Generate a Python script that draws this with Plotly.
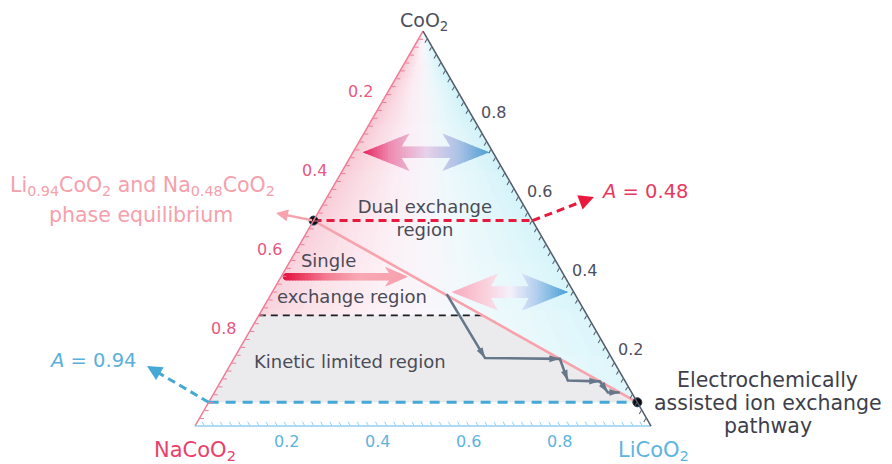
import math
import plotly.graph_objects as go

# ---------------- data ----------------
# ternary components: a = CoO2 (top), b = NaCoO2 (bottom left), c = LiCoO2 (bottom right)
tick_values = [0.2, 0.4, 0.6, 0.8]
tick_labels = ["0.2", "0.4", "0.6", "0.8"]

A_dual = 0.48        # A = 0.48 boundary (Na0.48CoO2)
A_kinetic = 0.72     # lower limit of the single exchange region
A_li = 0.94          # A = 0.94 (Li0.94CoO2)

# tie line Na0.48CoO2 -- Li0.94CoO2
tie_a = [0.52, 0.06]
tie_b = [0.48, 0.00]
tie_c = [0.00, 0.94]

# electrochemically assisted ion exchange pathway
path_a = [0.334, 0.172, 0.170, 0.115, 0.113, 0.085, 0.085]
path_b = [0.281, 0.278, 0.115, 0.125, 0.056, 0.052, 0.026]
path_c = [0.385, 0.550, 0.715, 0.760, 0.831, 0.863, 0.889]

# exchange arrows: (left tip, right tip) as (a, b, c)
dual_arrow = [(0.693, 0.286, 0.021), (0.693, 0.008, 0.299)]
tie_arrow = [(0.339, 0.268, 0.393), (0.339, 0.012, 0.649)]
single_arrow = [(0.378, 0.610, 0.012), (0.378, 0.344, 0.278)]

# ---------------- geometry helpers ----------------
FW, FH = 892, 464
OFF = 8                      # page margin of the html body
X0, YB, TH = 195.0, 426.0, 395.0
TW = TH * 2 / math.sqrt(3)
PW = 600.0
PH = TH
ML = (X0 - OFF) + TW / 2 - PW / 2
MT = YB - OFF - TH
MB = FH - (YB - OFF)
MR = FW - ML - PW

FONT = "DejaVu Sans, Verdana, sans-serif"


def to_px(a, b, c):
    s = a + b + c
    a, c = a / s, c / s
    return X0 + TW * (c + a / 2), YB - TH * a


def from_px(x, y):
    a = (YB - y) / TH
    c = (x - X0) / TW - a / 2
    return a, 1 - a - c, c


def paper(x, y):
    return ((x - OFF) - ML) / PW, ((FH - MB) - (y - OFF)) / PH


def hex2rgb(h):
    h = h.lstrip('#')
    return [int(h[i:i + 2], 16) for i in (0, 2, 4)]


def grad_rgb(stops, t):
    t = max(0.0, min(1.0, t))
    for (t0, c0), (t1, c1) in zip(stops[:-1], stops[1:]):
        if t <= t1:
            f = (t - t0) / (t1 - t0) if t1 > t0 else 0
            return [p + (q - p) * f for p, q in zip(hex2rgb(c0), hex2rgb(c1))]
    return hex2rgb(stops[-1][1])


def rgb_str(r):
    return 'rgb(%d,%d,%d)' % tuple(round(v) for v in r)


def grad_color(stops, t):
    return rgb_str(grad_rgb(stops, t))


def clip_strip(poly, x0, x1):
    def clip(pts, keep, inter):
        out = []
        n = len(pts)
        for i in range(n):
            P, Q = pts[i], pts[(i + 1) % n]
            pin, qin = keep(P), keep(Q)
            if pin:
                out.append(P)
            if pin != qin:
                out.append(inter(P, Q))
        return out

    def ix(P, Q, xv):
        t = (xv - P[0]) / (Q[0] - P[0])
        return (xv, P[1] + t * (Q[1] - P[1]))

    p = clip(poly, lambda P: P[0] >= x0, lambda P, Q: ix(P, Q, x0))
    if len(p) < 3:
        return []
    return clip(p, lambda P: P[0] <= x1, lambda P, Q: ix(P, Q, x1))


fig = go.Figure()


def add_poly(tern_pts, color):
    fig.add_trace(go.Scatterternary(
        a=[p[0] for p in tern_pts] + [tern_pts[0][0]],
        b=[p[1] for p in tern_pts] + [tern_pts[0][1]],
        c=[p[2] for p in tern_pts] + [tern_pts[0][2]],
        mode='lines', fill='toself', fillcolor=color, line=dict(width=0),
        hoverinfo='skip', showlegend=False))


def add_gradient_poly(poly_px, stops, n):
    xs = [p[0] for p in poly_px]
    xa, xb = min(xs), max(xs)
    for i in range(n):
        s0 = xa + (xb - xa) * i / n
        s1 = xa + (xb - xa) * (i + 1) / n + 0.8
        piece = clip_strip(poly_px, s0, s1)
        if len(piece) < 3:
            continue
        add_poly([from_px(x, y) for x, y in piece], grad_color(stops, (i + 0.5) / n))


def double_arrow_px(L, R, head, barb, shaft, setback):
    (xl, y), (xr, _) = to_px(*L), to_px(*R)
    return [(xl, y), (xl + head, y - barb), (xl + head - setback, y - shaft),
            (xr - head + setback, y - shaft), (xr - head, y - barb), (xr, y),
            (xr - head, y + barb), (xr - head + setback, y + shaft),
            (xl + head - setback, y + shaft), (xl + head, y + barb)]


def single_arrow_px(L, R, head, barb, shaft, setback):
    (xl, y), (xr, _) = to_px(*L), to_px(*R)
    cap = [(xl - shaft * math.sin(math.pi * k / 8), y + shaft * math.cos(math.pi * k / 8)) for k in range(9)]
    return [(xl, y - shaft), (xr - head + setback, y - shaft), (xr - head, y - barb), (xr, y),
            (xr - head, y + barb), (xr - head + setback, y + shaft)] + cap


# ---------------- background (Na -> Li colour fan, fading toward the base) ----------------
bg_stops = [(0, '#f6c1cf'), (0.15, '#f9d6e0'), (0.35, '#fbebf2'), (0.5, '#f7f2f9'),
            (0.65, '#eaf7fb'), (0.85, '#d9f4f9'), (1, '#c9f1f8')]
NF, NB = 40, 8
a_low = 1 - A_li


def fan_pt(a, r):
    return (a, (1 - a) * (1 - r), (1 - a) * r)


for j in range(NB):
    a0 = a_low + (1 - a_low) * j / NB
    a1 = min(1.0, a_low + (1 - a_low) * (j + 1) / NB + 0.004)
    am = (a0 + a1) / 2
    w = 0.42 * (1 - am) / (1 - a_low)
    for i in range(NF):
        r0, r1 = i / NF, min(1, (i + 1) / NF + 0.006)
        base = grad_rgb(bg_stops, (i + 0.5) / NF)
        col = rgb_str([v + (255 - v) * w for v in base])
        add_poly([fan_pt(a0, r0), fan_pt(a0, r1), fan_pt(a1, r1), fan_pt(a1, r0)], col)

# kinetic limited region (grey)
a_k = 1 - A_kinetic
t_k = (tie_a[0] - a_k) / (tie_a[0] - tie_a[1])
tie_k = (a_k, tie_b[0] + t_k * (tie_b[1] - tie_b[0]), tie_c[0] + t_k * (tie_c[1] - tie_c[0]))
add_poly([(a_k, 1 - a_k, 0), (a_low, 1 - a_low, 0), (tie_a[1], tie_b[1], tie_c[1]), tie_k], '#ebebee')

# ---------------- lines ----------------
a_d = 1 - A_dual
fig.add_trace(go.Scatterternary(a=[a_d, a_d], b=[1 - a_d, 0], c=[0, 1 - a_d], mode='lines',
                                line=dict(color='#e8193c', width=3, dash='8px,5px'),
                                hoverinfo='skip', showlegend=False))
fig.add_trace(go.Scatterternary(a=[a_k, tie_k[0]], b=[1 - a_k, tie_k[1]], c=[0, tie_k[2]], mode='lines',
                                line=dict(color='#1e1e24', width=1.8, dash='7px,5px'),
                                hoverinfo='skip', showlegend=False))
fig.add_trace(go.Scatterternary(a=[a_low, a_low], b=[1 - a_low, 0], c=[0, 1 - a_low], mode='lines',
                                line=dict(color='#45a8d6', width=3, dash='10px,7px'),
                                hoverinfo='skip', showlegend=False))
fig.add_trace(go.Scatterternary(a=tie_a, b=tie_b, c=tie_c, mode='lines',
                                line=dict(color='#f8a2ad', width=2.6),
                                hoverinfo='skip', showlegend=False))

# pathway
fig.add_trace(go.Scatterternary(a=path_a, b=path_b, c=path_c, mode='lines',
                                line=dict(color='#66778a', width=2.6),
                                hoverinfo='skip', showlegend=False))
pp = [to_px(*p) for p in zip(path_a, path_b, path_c)]
angles = [math.degrees(math.atan2(pp[i][0] - pp[i - 1][0], -(pp[i][1] - pp[i - 1][1]))) for i in range(1, len(pp))]
fig.add_trace(go.Scatterternary(a=path_a[1:], b=path_b[1:], c=path_c[1:], mode='markers',
                                marker=dict(symbol='arrow', size=11, angle=angles, color='#66778a',
                                            line=dict(width=0)),
                                cliponaxis=False, hoverinfo='skip', showlegend=False))

# ---------------- exchange arrows ----------------
add_gradient_poly(double_arrow_px(*dual_arrow, 47, 18.8, 5.7, 8),
                  [(0, '#e4245e'), (0.22, '#ee8db2'), (0.5, '#e8d1ea'), (0.75, '#adc3e6'), (1, '#4d9ed4')], 45)
add_gradient_poly(double_arrow_px(*tie_arrow, 46.5, 18.5, 5.8, 7),
                  [(0, '#f8aabd'), (0.3, '#f9d2de'), (0.5, '#f4f0fa'), (0.72, '#b5d0ee'), (1, '#46a0d6')], 45)
add_gradient_poly(single_arrow_px(*single_arrow, 23, 10, 3.8, 4),
                  [(0, '#e30e3d'), (0.35, '#f37d93'), (0.6, '#f8a9b4'), (1, '#f8a0ad')], 40)

# end-member points
fig.add_trace(go.Scatterternary(a=tie_a, b=tie_b, c=tie_c, mode='markers',
                                marker=dict(size=9, color='#0d0d10', line=dict(color='#24405a', width=1)),
                                cliponaxis=False, hoverinfo='skip', showlegend=False))


# ---------------- text inside the triangle ----------------
def add_text(pts, texts, color, size, pos='middle center'):
    fig.add_trace(go.Scatterternary(
        a=[p[0] for p in pts], b=[p[1] for p in pts], c=[p[2] for p in pts],
        mode='text', text=texts, textposition=pos,
        textfont=dict(family=FONT, size=size, color=color),
        cliponaxis=False, hoverinfo='skip', showlegend=False))


REG = '#4a4b57'
add_text([from_px(425, 220)], ['Dual exchange<br>region'], REG, 18)
add_text([from_px(301, 262)], ['Single'], REG, 18, 'middle right')
add_text([from_px(277, 298)], ['exchange region'], REG, 18, 'middle right')
add_text([from_px(254, 363)], ['Kinetic limited region'], REG, 18, 'middle right')


# ---------------- text outside the triangle (paper annotations) ----------------
def add_label(x, y, text, color, size, xanchor='center'):
    px, py = paper(x, y)
    fig.add_annotation(xref='paper', yref='paper', x=px, y=py, text=text, showarrow=False,
                       xanchor=xanchor, yanchor='middle', align='center', borderpad=0,
                       font=dict(family=FONT, size=size, color=color))


for v, t in zip(tick_values, tick_labels):
    x, y = to_px(1 - v, v, 0)
    add_label(x - 17, y - 18.5, t, '#e8587f', 16)
    x, y = to_px(v, 0, 1 - v)
    add_label(x + 25, y + 2, t, '#4d4f5c', 16)
    x, y = to_px(0, 1 - v, v)
    add_label(x, y + 15, t, '#5db4df', 16)

x, y = to_px(1, 0, 0)
add_label(x + 1, y - 10, 'CoO<sub>2</sub>', '#4d4f5c', 19)
x, y = to_px(0, 1, 0)
add_label(x, y + 25, 'NaCoO<sub>2</sub>', '#e8416a', 21)
x, y = to_px(0, 0, 1)
add_label(x + 2, y + 25, 'LiCoO<sub>2</sub>', '#5db4df', 21)

PINK_TXT = '#f6a0ac'
add_label(143, 186, 'Li<sub>0.94</sub>CoO<sub>2</sub> and Na<sub>0.48</sub>CoO<sub>2</sub>', PINK_TXT, 20.5)
add_label(141, 215, 'phase equilibrium', PINK_TXT, 20.5)
add_label(645, 192, '<i>A</i> = 0.48', '#e83a5e', 19.5)
add_label(93, 360, '<i>A</i> = 0.94', '#5ab0da', 19.5)
for yy, line in zip([380, 403, 426], ['Electrochemically', 'assisted ion exchange', 'pathway']):
    add_label(768, yy, line, '#3e3f4a', 20.5)


# ---------------- arrows leaving the triangle ----------------
def add_arrow(start, tip, color, width, dash=None, head=9):
    sx, sy = start
    tx, ty = tip
    L = math.hypot(tx - sx, ty - sy)
    ux, uy = (tx - sx) / L, (ty - sy) / L
    hx, hy = paper(tx, ty)
    if dash:
        bx, by = tx - ux * head, ty - uy * head
        x0p, y0p = paper(sx, sy)
        x1p, y1p = paper(bx, by)
        fig.add_shape(type='line', xref='paper', yref='paper', x0=x0p, y0=y0p, x1=x1p, y1=y1p,
                      line=dict(color=color, width=width, dash=dash))
        ax, ay = -ux * head, -uy * head
    else:
        ax, ay = sx - tx, sy - ty
    fig.add_annotation(xref='paper', yref='paper', x=hx, y=hy, ax=ax, ay=ay, text='',
                       showarrow=True, arrowhead=2, arrowsize=1, arrowwidth=width, arrowcolor=color)


add_arrow(to_px(a_d, 0, 1 - a_d), (594, 197), '#e8193c', 3, dash='8px,5px', head=10)
add_arrow(to_px(a_low, 1 - a_low, 0), (147, 366), '#45a8d6', 3, dash='8px,5px', head=10)
add_arrow(to_px(tie_a[0], tie_b[0], tie_c[0]), (276, 213), '#f8a2ad', 2.4)

axis_common = dict(showgrid=False, showticklabels=False, ticks='inside', ticklen=4, tickwidth=1,
                   tickmode='linear', tick0=0, dtick=0.02, linewidth=1.5, layer='above traces',
                   title=dict(text=''))
fig.update_layout(
    width=FW, height=FH,
    margin=dict(l=ML, r=MR, t=MT, b=MB, pad=0),
    paper_bgcolor='white',
    showlegend=False,
    hovermode=False,
    ternary=dict(sum=1, bgcolor='white',
                 aaxis=dict(axis_common, linecolor='#ef7d98', tickcolor='#ef7d98'),
                 baxis=dict(axis_common, linecolor='#8fd1ef', tickcolor='#8fd1ef'),
                 caxis=dict(axis_common, linecolor='#525b69', tickcolor='#525b69')),
)

fig.write_html("out.html")
